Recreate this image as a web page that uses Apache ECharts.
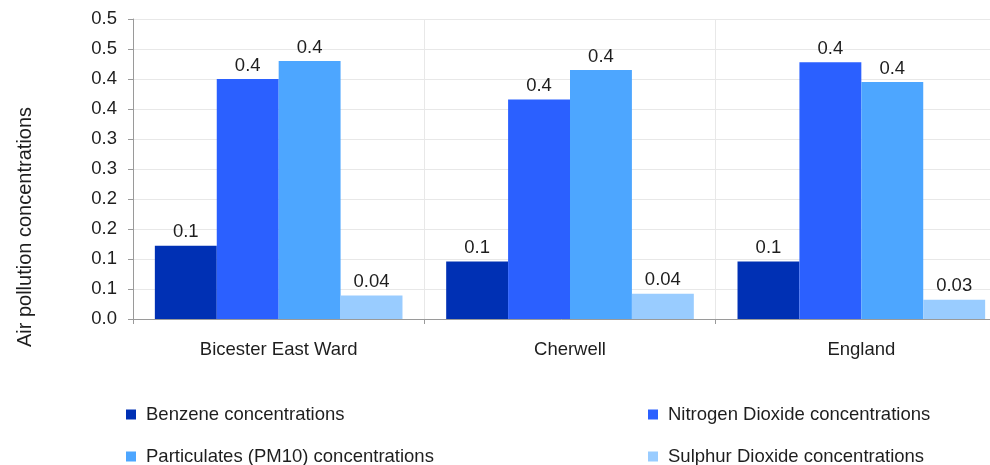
<!DOCTYPE html>
<html><head><meta charset="utf-8">
<script src="https://cdn.jsdelivr.net/npm/echarts@6/dist/echarts.min.js"></script>
<style>html,body{margin:0;padding:0;background:#fff}#c{width:990px;height:465px}</style>
</head><body><div id="c"></div>
<script>
const categories = ['Bicester East Ward', 'Cherwell', 'England'];
const seriesNames = ['Benzene concentrations', 'Nitrogen Dioxide concentrations', 'Particulates (PM10) concentrations', 'Sulphur Dioxide concentrations'];
const benzene = [0.122, 0.096, 0.096];
const nitrogenDioxide = [0.400, 0.366, 0.428];
const particulates = [0.430, 0.415, 0.395];
const sulphurDioxide = [0.039, 0.042, 0.032];
const colors = ['#0030b4', '#2b60ff', '#4da6ff', '#99ccff'];
const yAxisTitle = 'Air pollution concentrations';

const values = [benzene, nitrogenDioxide, particulates, sulphurDioxide];
const font = "'Liberation Sans', Arial, sans-serif";
const txt = '#1e1e1e';
const fs = 18.5;

const legendPos = [[126, 405], [648, 405], [126, 447], [648, 447]];
const legends = seriesNames.map((n, i) => ({
  data: [n], left: legendPos[i][0], top: legendPos[i][1], padding: 0,
  itemWidth: 10, itemHeight: 10, icon: 'rect',
  textStyle: {fontSize: fs, color: txt, fontFamily: font, padding: [0, 0, 0, 5]}
}));

const chart = echarts.init(document.getElementById('c'), null, {renderer: 'canvas'});
chart.setOption({
  animation: false,
  textStyle: {fontFamily: font},
  grid: {left: 133, top: 19, height: 300, width: 874, outerBoundsMode: 'none', containLabel: false},
  legend: legends,
  xAxis: {
    type: 'category', data: categories,
    axisLine: {lineStyle: {color: '#9a9a9a'}},
    axisTick: {show: true, length: 5, lineStyle: {color: '#9a9a9a'}},
    axisLabel: {fontSize: fs, color: txt, margin: 21, fontFamily: font},
    splitLine: {show: true, lineStyle: {color: '#e8e8e8'}}
  },
  yAxis: {
    type: 'value', min: 0, max: 0.5, interval: 0.05,
    axisLine: {show: true, lineStyle: {color: '#9a9a9a'}},
    axisTick: {show: true, length: 5, lineStyle: {color: '#9a9a9a'}},
    axisLabel: {fontSize: fs, color: txt, margin: 16, fontFamily: font,
      formatter: v => (Math.round(v * 10) / 10).toFixed(1)},
    splitLine: {show: true, lineStyle: {color: '#e8e8e8'}}
  },
  graphic: [{
    type: 'text', x: 25, y: 227, rotation: Math.PI / 2,
    style: {text: yAxisTitle, fontSize: 20, fill: txt, fontFamily: font, align: 'center', verticalAlign: 'middle'}
  }],
  series: seriesNames.map((n, i) => ({
    name: n, type: 'bar', data: values[i],
    barGap: '0%', barCategoryGap: '15%',
    itemStyle: {color: colors[i]},
    label: {show: true, position: 'top', distance: 4, fontSize: fs, color: txt, fontFamily: font,
      formatter: p => String(Number(p.value.toPrecision(1)))}
  }))
});
</script></body></html>
